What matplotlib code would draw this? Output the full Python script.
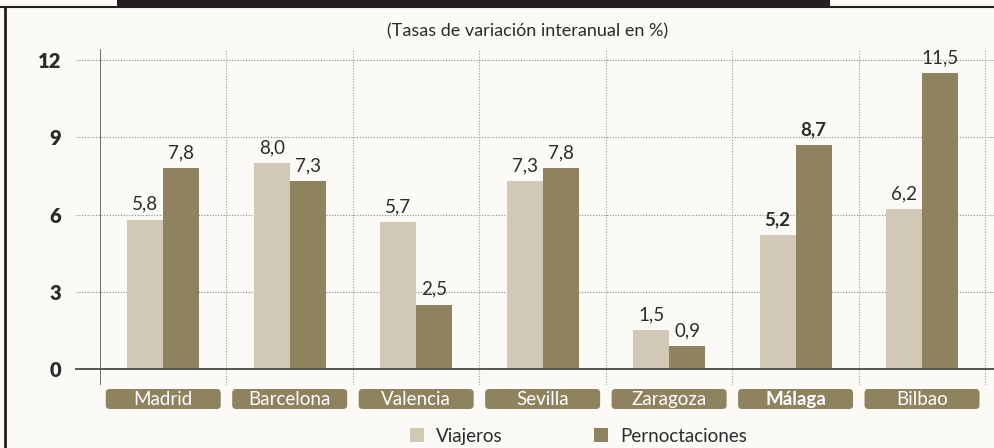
import matplotlib
matplotlib.use("Agg")
import matplotlib.pyplot as plt
from matplotlib.patches import FancyBboxPatch, Rectangle
from matplotlib.transforms import IdentityTransform, blended_transform_factory

plt.rcParams['font.family'] = ['Lato', 'DejaVu Sans']

ciudades = ["Madrid", "Barcelona", "Valencia", "Sevilla", "Zaragoza", "Málaga", "Bilbao"]
viajeros = [5.8, 8.0, 5.7, 7.3, 1.5, 5.2, 6.2]
pernoctaciones = [7.8, 7.3, 2.5, 7.8, 0.9, 8.7, 11.5]
destacada = "Málaga"
yticks = [0, 3, 6, 9, 12]
subtitulo = "(Tasas de variación interanual en %)"
series = ["Viajeros", "Pernoctaciones"]

BG = "#fbfaf6"
C_LIGHT = "#d1c8b5"
C_DARK = "#8f835f"
TXT = "#2b2b2b"
W, H = 995, 448

fig = plt.figure(figsize=(W / 100, H / 100), dpi=100, facecolor=BG)
ax = fig.add_axes([100 / W, (H - 385) / H, (W - 100) / W, (385 - 49) / H])
ax.set_facecolor(BG)

ax.set_xlim(-0.5, 6.577)
ax.set_ylim(-0.62, 12.43)

bw = 0.285
xs = list(range(len(ciudades)))
ax.bar([x - bw / 2 for x in xs], viajeros, width=bw, color=C_LIGHT, zorder=3)
ax.bar([x + bw / 2 for x in xs], pernoctaciones, width=bw, color=C_DARK, zorder=3)

def fmt(v):
    return f"{v:.1f}".replace(".", ",")

for x, c, v1, v2 in zip(xs, ciudades, viajeros, pernoctaciones):
    bold = c == destacada
    for dx, v in ((-bw / 2, v1), (bw / 2, v2)):
        ax.annotate(fmt(v), (x + dx, v), xytext=(0, 5), textcoords="offset points",
                    ha="center", va="bottom", fontsize=13.5, color=TXT,
                    fontweight="bold" if bold else "normal", zorder=4)

# grid: horizontal dotted lines extend a little left of the axis
tr = blended_transform_factory(ax.transAxes, ax.transData)
x0 = -24 / (W - 100)
for t in yticks[1:]:
    ax.plot([x0, 1], [t, t], transform=tr, ls=(0, (1, 1.5)), lw=0.8,
            color="#8a8a8a", clip_on=False, zorder=1)
ax.plot([x0, 1], [0, 0], transform=tr, lw=1.4, color="#555555", clip_on=False, zorder=5)

for b in [i + 0.5 for i in range(len(ciudades))]:
    ax.axvline(b, ls=(0, (1, 1.5)), lw=0.8, color="#9a9a9a", zorder=1)

for s in ax.spines.values():
    s.set_visible(False)
ax.axvline(-0.5, color="#555555", lw=1.2, zorder=5)

ax.set_xticks([])
ax.set_yticks(yticks)
ax.set_yticklabels([str(t) for t in yticks], fontsize=14.5, fontweight="heavy", color=TXT)
ax.tick_params(axis="y", length=0, pad=28)

# category label boxes under the axis
fig.canvas.draw()
for x, c in zip(xs, ciudades):
    px, _ = ax.transData.transform((x, 0))
    box = FancyBboxPatch((px - 58.5 + 5, H - 409 + 4), 117 - 10, 20 - 8,
                         boxstyle="round,pad=4,rounding_size=4",
                         transform=IdentityTransform(), facecolor=C_DARK,
                         edgecolor="none")
    fig.patches.append(box)
    fig.text(px / W, (H - 399.5) / H, c, ha="center", va="center", color="white",
             fontsize=13.5, fontweight="bold" if c == destacada else "normal")

# legend
for lx, name, col in ((410, series[0], C_LIGHT), (594, series[1], C_DARK)):
    fig.patches.append(Rectangle((lx, H - 442), 14, 14, transform=IdentityTransform(),
                                 facecolor=col, edgecolor="none"))
    fig.text((lx + 26) / W, (H - 436) / H, name, ha="left", va="center",
             fontsize=13.5, color=TXT)

# subtitle and frame
fig.text(528 / W, (H - 31) / H, subtitulo, ha="center", va="center",
         fontsize=13, color=TXT)
fig.patches.append(Rectangle((117, H - 7), 713, 7, transform=IdentityTransform(),
                             facecolor="#231f20", edgecolor="none"))
fig.lines.append(plt.Line2D([0, W], [H - 7, H - 7], transform=IdentityTransform(),
                            color="#231f20", lw=1.5))
fig.lines.append(plt.Line2D([5, 5], [0, H - 7], transform=IdentityTransform(),
                            color="#231f20", lw=2))

fig.savefig("out.png", dpi=100, facecolor=BG)
